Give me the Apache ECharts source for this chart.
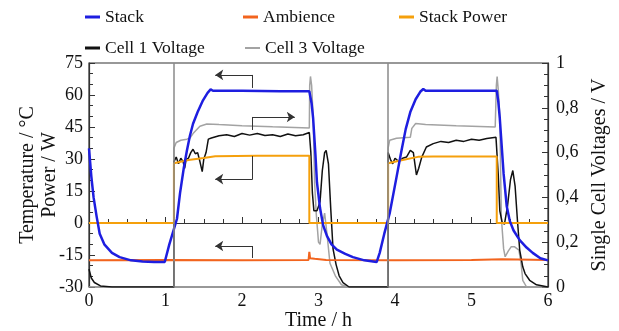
<!DOCTYPE html>
<html>
<head>
<meta charset="utf-8">
<script src="https://cdn.jsdelivr.net/npm/echarts@6/dist/echarts.min.js"></script>
<style>
  html, body { margin: 0; padding: 0; background: #fff; }
  #main { width: 619px; height: 331px; }
</style>
</head>
<body>
<div id="main"></div>
<script>
// time in h
const stackTemp = [
  [0, 35], [0.03, 22], [0.06, 12], [0.1, 3], [0.14, -5], [0.2, -10], [0.3, -14],
  [0.4, -16], [0.55, -17.5], [0.7, -18], [0.85, -18.3], [0.99, -18.3], [1.05, -10],
  [1.1, -4], [1.15, 2], [1.19, 14], [1.24, 26], [1.28, 34], [1.32, 41], [1.36, 46.5],
  [1.42, 52], [1.49, 57.5], [1.55, 61], [1.59, 62.6], [1.62, 62], [2.0, 62],
  [2.5, 61.8], [2.88, 61.8], [2.91, 56], [2.93, 49], [2.96, 32], [2.98, 19],
  [3.02, 7], [3.06, -1], [3.11, -6], [3.17, -10], [3.24, -12.5], [3.35, -14.5],
  [3.45, -16], [3.6, -17.5], [3.76, -18.3], [3.8, -14], [3.86, -5], [3.93, 4.5],
  [4.02, 21.5], [4.08, 33], [4.14, 44], [4.2, 52], [4.27, 58], [4.33, 61.5],
  [4.37, 62.8], [4.4, 62], [5.0, 62], [5.33, 62], [5.35, 57], [5.37, 49], [5.42, 23],
  [5.46, 8], [5.5, 1], [5.55, -3.5], [5.63, -8], [5.72, -11.5], [5.8, -14],
  [5.9, -16.5], [6.0, -17.5]
];
const ambience = [
  [0, -17.5], [1, -17.3], [2, -17.5], [2.87, -17.3], [2.88, -13.5], [2.89, -16.5],
  [2.95, -16.8], [3.1, -17.3], [4, -17.5], [5, -17.3], [5.4, -17], [6, -17.3]
];
const stackPower = [
  [0, 0], [1.11, 0], [1.11, 28], [1.3, 29.5], [1.5, 30.5], [1.65, 31.3], [2.2, 31.5],
  [2.88, 31.5], [2.88, 0], [3.91, 0], [3.91, 28], [4.1, 29.5], [4.3, 31], [4.5, 31.2],
  [5.33, 31.2], [5.33, 0], [6, 0]
];
const cell1 = [
  [0, 0.08], [0.03, 0.04], [0.07, 0.02], [0.15, 0.005], [0.3, 0], [1.11, 0],
  [1.11, 0.56], [1.14, 0.58], [1.17, 0.55], [1.2, 0.575], [1.23, 0.56], [1.25, 0.53],
  [1.27, 0.57], [1.3, 0.575], [1.33, 0.6], [1.36, 0.615], [1.39, 0.595], [1.42, 0.6],
  [1.45, 0.56], [1.48, 0.515], [1.5, 0.57], [1.53, 0.6], [1.56, 0.66], [1.6, 0.665],
  [1.7, 0.675], [1.8, 0.68], [1.9, 0.672], [2.0, 0.685], [2.1, 0.678], [2.2, 0.685],
  [2.3, 0.676], [2.4, 0.68], [2.5, 0.672], [2.6, 0.683], [2.7, 0.675], [2.8, 0.68],
  [2.88, 0.69], [2.9, 0.6], [2.92, 0.42], [2.94, 0.34], [2.98, 0.34], [3.02, 0.38],
  [3.05, 0.52], [3.08, 0.6], [3.1, 0.61], [3.13, 0.55], [3.16, 0.35], [3.19, 0.17],
  [3.23, 0.1], [3.27, 0.05], [3.32, 0.02], [3.4, 0], [3.91, 0], [3.91, 0.6],
  [3.94, 0.57], [3.97, 0.55], [4.0, 0.575], [4.05, 0.56], [4.1, 0.575], [4.15, 0.58],
  [4.2, 0.61], [4.24, 0.6], [4.26, 0.55], [4.28, 0.5], [4.31, 0.53], [4.35, 0.58],
  [4.41, 0.625], [4.5, 0.64], [4.6, 0.65], [4.7, 0.645], [4.8, 0.655], [4.9, 0.65],
  [5.0, 0.66], [5.1, 0.655], [5.2, 0.663], [5.32, 0.668], [5.35, 0.5], [5.37, 0.34],
  [5.4, 0.29], [5.43, 0.28], [5.47, 0.36], [5.51, 0.48], [5.54, 0.52], [5.57, 0.45],
  [5.6, 0.3], [5.63, 0.165], [5.67, 0.09], [5.7, 0.06], [5.76, 0.03], [5.85, 0.01],
  [6, 0]
];
const cell3 = [
  [0, 0], [1.11, 0], [1.11, 0.62], [1.14, 0.645], [1.2, 0.655], [1.28, 0.66],
  [1.32, 0.665], [1.36, 0.685], [1.4, 0.7], [1.45, 0.718], [1.54, 0.728], [1.7, 0.725],
  [2.0, 0.72], [2.4, 0.715], [2.88, 0.71], [2.885, 0.9], [2.895, 0.94], [2.91, 0.9],
  [2.93, 0.76], [2.95, 0.46], [2.97, 0.33], [3.0, 0.2], [3.02, 0.19], [3.05, 0.28],
  [3.08, 0.33], [3.11, 0.24], [3.15, 0.106], [3.22, 0.05], [3.3, 0.01], [3.4, 0],
  [3.91, 0], [3.91, 0.62], [3.93, 0.655], [4.02, 0.664], [4.2, 0.668], [4.22, 0.708],
  [4.27, 0.73], [4.4, 0.725], [4.8, 0.72], [5.31, 0.714], [5.325, 0.9], [5.335, 0.94],
  [5.35, 0.88], [5.37, 0.76], [5.39, 0.31], [5.42, 0.17], [5.44, 0.135], [5.48, 0.16],
  [5.52, 0.18], [5.56, 0.18], [5.62, 0.165], [5.65, 0.1], [5.67, 0.03], [5.72, 0],
  [6, 0]
];
// vertical marker lines (h)
const markerTimes = [1.115, 3.91];
// bracket arrows, in left-axis units: stub and head
const arrowStubs = [
  [[2.14, 63.3], [2.14, 69.4]],
  [[2.14, 43.6], [2.14, 49.7]],
  [[2.14, 31.4], [2.14, 20.6]],
  [[2.14, -16.4], [2.14, -10.8]]
];
const arrowHeads = [
  [[2.14, 69.4], [1.65, 69.4]],
  [[2.14, 49.7], [2.69, 49.7]],
  [[2.14, 20.6], [1.65, 20.6]],
  [[2.14, -10.8], [1.65, -10.8]]
];

const FONT = "'Liberation Serif', 'Times New Roman', serif";
const chart = echarts.init(document.getElementById("main"));

const legendSpots = [
  { name: "Stack", left: 85, top: 8, h: 3 },
  { name: "Ambience", left: 243, top: 8, h: 3 },
  { name: "Stack Power", left: 399, top: 8, h: 3 },
  { name: "Cell 1 Voltage", left: 85, top: 39, h: 3 },
  { name: "Cell 3 Voltage", left: 245, top: 39, h: 2 }
];

function lineSeries(name, data, color, width, yIdx) {
  return {
    name: name,
    type: "line",
    yAxisIndex: yIdx,
    data: data,
    showSymbol: false,
    symbol: "none",
    lineStyle: { color: color, width: width },
    itemStyle: { color: color },
    z: 3
  };
}

const series = [
  lineSeries("Cell 3 Voltage", cell3, "#a3a3a3", 1.5, 1),
  lineSeries("Cell 1 Voltage", cell1, "#111111", 1.5, 1),
  lineSeries("Ambience", ambience, "#f2641e", 2, 0),
  lineSeries("Stack Power", stackPower, "#f5a00c", 2, 0),
  lineSeries("Stack", stackTemp, "#1e1ee0", 2.5, 0)
];
series[0].markLine = {
  silent: true,
  symbol: "none",
  label: { show: false },
  lineStyle: { color: "#8a8a8a", width: 1.5, type: "solid" },
  data: markerTimes.map(function (t) { return { xAxis: t }; })
};
series.push({
  type: "lines",
  coordinateSystem: "cartesian2d",
  yAxisIndex: 0,
  symbol: "none",
  lineStyle: { color: "#333", width: 1, opacity: 1, curveness: 0 },
  z: 4,
  data: arrowStubs.map(function (p) { return { coords: p }; })
});
series.push({
  type: "lines",
  coordinateSystem: "cartesian2d",
  yAxisIndex: 0,
  symbol: ["none", "arrow"],
  symbolSize: 8,
  lineStyle: { color: "#333", width: 1, opacity: 1, curveness: 0 },
  z: 4,
  data: arrowHeads.map(function (p) { return { coords: p }; })
});

const option = {
  animation: false,
  textStyle: { fontFamily: FONT },
  legend: legendSpots.map(function (s) {
    return {
      data: [s.name],
      left: s.left,
      top: s.top,
      padding: 0,
      icon: "rect",
      itemWidth: 15,
      itemHeight: s.h,
      itemGap: 0,
      textStyle: { fontFamily: FONT, fontSize: 17.5, color: "#111" }
    };
  }),
  grid: {
    left: 89, right: 71, top: 63, bottom: 44,
    outerBoundsMode: "none",
    containLabel: false,
    show: true, borderColor: "#333", borderWidth: 1.2
  },
  xAxis: {
    type: "value",
    min: 0, max: 6, interval: 1,
    name: "Time / h",
    nameLocation: "middle",
    nameGap: 24,
    nameMoveOverlap: false,
    nameTextStyle: { fontFamily: FONT, fontSize: 20, color: "#111" },
    axisLine: { lineStyle: { color: "#333", width: 1.2 } },
    axisTick: { inside: true, length: 6, lineStyle: { color: "#333" } },
    minorTick: { show: true, splitNumber: 4, length: 4, lineStyle: { color: "#333" } },
    splitLine: { show: false },
    axisLabel: { fontFamily: FONT, fontSize: 18, color: "#111", margin: 5 }
  },
  yAxis: [
    {
      type: "value",
      min: -30, max: 75, interval: 15,
      name: "Temperature / °C\nPower / W",
      nameLocation: "middle",
      nameGap: 28,
      nameMoveOverlap: false,
      nameTextStyle: { fontFamily: FONT, fontSize: 20, color: "#111", lineHeight: 22 },
      axisLine: { show: true, lineStyle: { color: "#333", width: 1.2 } },
      axisTick: { inside: true, length: 6, lineStyle: { color: "#333" } },
      minorTick: { show: true, splitNumber: 3, length: 4, lineStyle: { color: "#333" } },
      splitLine: { show: false },
      axisLabel: { fontFamily: FONT, fontSize: 18, color: "#111", margin: 6 }
    },
    {
      type: "value",
      position: "right",
      min: 0, max: 1, interval: 0.2,
      name: "Single Cell Voltages / V",
      nameLocation: "middle",
      nameGap: 42,
      nameMoveOverlap: false,
      nameTextStyle: { fontFamily: FONT, fontSize: 20, color: "#111" },
      axisLine: { show: true, lineStyle: { color: "#333", width: 1.2 } },
      axisTick: { inside: true, length: 6, lineStyle: { color: "#333" } },
      minorTick: { show: true, splitNumber: 4, length: 4, lineStyle: { color: "#333" } },
      splitLine: { show: false },
      axisLabel: {
        fontFamily: FONT, fontSize: 18, color: "#111", margin: 8,
        formatter: function (v) { return String(Math.round(v * 10) / 10).replace(".", ","); }
      }
    }
  ],
  series: series
};

chart.setOption(option);
</script>
</body>
</html>
